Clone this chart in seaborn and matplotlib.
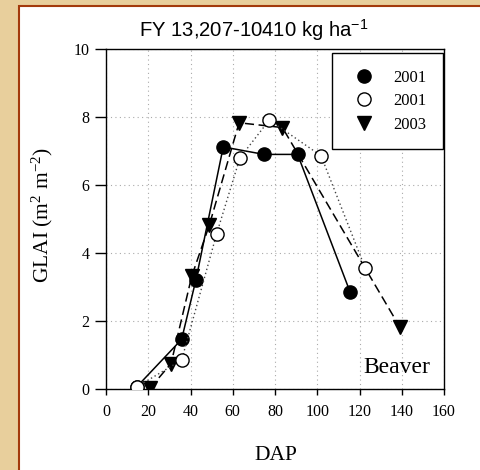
import matplotlib
matplotlib.use("Agg")
import matplotlib.pyplot as plt
from matplotlib.lines import Line2D
from matplotlib.patches import Rectangle
import seaborn as sns

# GLAI vs days after planting
dap_2001a = [14.5, 35.8, 42.6, 55.5, 74.8, 90.7, 115.5]
glai_2001a = [0.06, 1.46, 3.22, 7.12, 6.90, 6.90, 2.86]

dap_2001b = [14.5, 35.8, 52.4, 63.4, 77.3, 101.8, 122.6]
glai_2001b = [0.06, 0.85, 4.57, 6.80, 7.91, 6.86, 3.57]

dap_2003 = [20.8, 30.8, 40.6, 48.9, 63.0, 83.5, 139.2]
glai_2003 = [0.02, 0.75, 3.32, 4.82, 7.83, 7.69, 1.81]

labels = ["2001", "2001", "2003"]
x_ticks = [0, 20, 40, 60, 80, 100, 120, 140, 160]
y_ticks = [0, 2, 4, 6, 8, 10]

sns.set_style("white")
plt.rcParams["font.family"] = ["Liberation Serif", "DejaVu Serif"]
plt.rcParams["text.color"] = "black"
plt.rcParams["xtick.color"] = "black"
plt.rcParams["ytick.color"] = "black"
plt.rcParams["axes.labelcolor"] = "black"

fig = plt.figure(figsize=(4.81, 4.70), dpi=100)
fig.patch.set_facecolor("#E8CF9C")

# white panel with rust border
panel = Rectangle((18.5 / 481, -0.05), 1.2, (470 - 5.5) / 470 + 0.05,
                  transform=fig.transFigure, facecolor="white",
                  edgecolor="#A33A0C", linewidth=1.5, zorder=-1)
fig.patches.append(panel)

ax = fig.add_axes([106 / 481, 1 - 389 / 470, 338 / 481, 340 / 470])
ax.set_zorder(2)
ax.set_facecolor("white")

sns.lineplot(x=dap_2001a, y=glai_2001a, ax=ax, sort=False, estimator=None,
             color="black", linestyle="-", lw=1.1, marker="o", markersize=9.5,
             markerfacecolor="black", markeredgecolor="black", mew=1, zorder=3)
sns.lineplot(x=dap_2003, y=glai_2003, ax=ax, sort=False, estimator=None,
             color="black", linestyle=(0, (6, 3)), lw=1.1, marker="v", markersize=10.5,
             markerfacecolor="black", markeredgecolor="black", mew=1, zorder=4)
sns.lineplot(x=dap_2001b, y=glai_2001b, ax=ax, sort=False, estimator=None,
             color="#444444", linestyle=(0, (1, 2)), lw=1.0, marker="o", markersize=9.5,
             markerfacecolor="white", markeredgecolor="black", mew=1, zorder=5)

ax.set_xlim(0, 160)
ax.set_ylim(0, 10)
ax.set_xticks(x_ticks)
ax.set_yticks(y_ticks)
ax.set_xlabel("")
ax.set_ylabel("")
ax.grid(True, linestyle=(0, (1, 3)), color="#aaaaaa", linewidth=0.8)
ax.set_axisbelow(True)
for s in ax.spines.values():
    s.set_color("black")
    s.set_linewidth(1.0)
    s.set_visible(True)
ax.tick_params(axis="both", labelsize=11.5, direction="out", color="black", width=1)
ax.tick_params(axis="x", length=4.5, pad=6, bottom=True)
ax.tick_params(axis="y", length=8, pad=4, left=True)

ax.text(121.8, 0.48, "Beaver", fontsize=17, ha="left", va="baseline", zorder=6)

handles = [
    Line2D([], [], linestyle="none", marker="o", markersize=9.5,
           markerfacecolor="black", markeredgecolor="black"),
    Line2D([], [], linestyle="none", marker="o", markersize=9.5,
           markerfacecolor="white", markeredgecolor="black"),
    Line2D([], [], linestyle="none", marker="v", markersize=10.5,
           markerfacecolor="black", markeredgecolor="black"),
]
leg = ax.legend(handles, labels, loc="upper right", bbox_to_anchor=(0.997, 0.987),
                borderaxespad=0, fontsize=12, frameon=True, fancybox=False,
                framealpha=1, edgecolor="black", borderpad=0.97, labelspacing=0.46,
                handlelength=1.9, handletextpad=0.85)
leg.get_frame().set_linewidth(1.0)
leg.set_zorder(7)

fig.text(254 / 481, 1 - 37 / 470, r"FY 13,207-10410 kg ha$\mathregular{^{-1}}$",
         family=["Liberation Sans", "DejaVu Sans"], fontsize=14.6,
         ha="center", va="baseline")
fig.text(42 / 481, 1 - 215 / 470, r"GLAI (m$\mathregular{^2}$ m$\mathregular{^{-2}}$)",
         fontsize=15.5, rotation=90, ha="center", va="center")
fig.text(276 / 481, 1 - 460 / 470, "DAP", fontsize=15.5, ha="center", va="baseline")

fig.savefig("out.png", dpi=100, facecolor=fig.get_facecolor())
